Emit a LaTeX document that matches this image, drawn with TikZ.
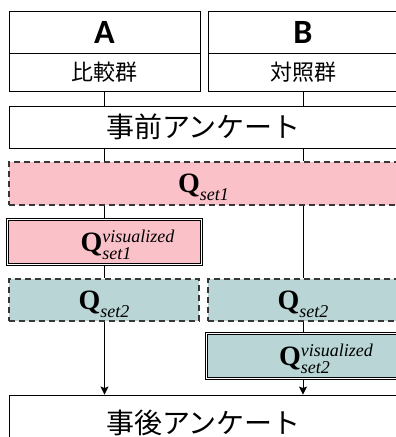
\documentclass[tikz,border=0pt]{standalone}
\usepackage{fontspec}
\setmainfont{Liberation Serif}
\newfontfamily\jpfont{Noto Sans CJK JP}
\newfontfamily\hdfont{Carlito}
\usetikzlibrary{arrows.meta}
\definecolor{qpink}{RGB}{250,193,200}
\definecolor{qteal}{RGB}{185,213,213}
\definecolor{dashgray}{RGB}{55,55,55}
\newcommand\bigQ{{\fontsize{28}{28}\selectfont\bfseries Q}}
\newcommand\qsmall[1]{{\fontsize{18}{18}\selectfont\itshape #1}}
\newcommand\qset[1]{\bigQ\raisebox{-8pt}{\qsmall{#1}}}
\newcommand\qvis[1]{\hspace*{46pt}\bigQ\rlap{\raisebox{-8pt}{\qsmall{#1}}}\raisebox{9pt}{\qsmall{visualized}}}
\begin{document}
\begin{tikzpicture}[x=1pt,y=-1pt,
  box/.style={draw=black,line width=0.9pt,inner sep=0pt,fill=white},
  dbox/.style={draw=dashgray,line width=1.2pt,dash pattern=on 6pt off 4pt,inner sep=0pt},
  vbox/.style={draw=black,line width=0.8pt,double distance=1.8pt,inner sep=0pt},
  qtext/.style={text height=18.5pt,text depth=0pt},
  hd/.style={font=\hdfont\bfseries\fontsize{34}{34}\selectfont},
  jl/.style={font=\jpfont\fontsize{22}{22}\selectfont},
  jb/.style={font=\jpfont\fontsize{28}{28}\selectfont},
  conn/.style={line width=0.9pt},
  arr/.style={conn,-{Stealth[length=8pt,width=8pt,inset=1.5pt]}}]
\useasboundingbox (0,0) rectangle (396,437);
\clip (0,0) rectangle (396,437);
% headers
\node[box,hd,minimum width=191pt,minimum height=42pt] (Ahead) at (104.5,32) {A};
\node[box,jl,minimum width=191pt,minimum height=38pt] (Alab) at (104.5,72) {比較群};
\node[box,hd,minimum width=190pt,minimum height=42pt] (Bhead) at (303,32) {B};
\node[box,jl,minimum width=190pt,minimum height=38pt] (Blab) at (303,72) {対照群};
% pre survey
\node[box,jb,minimum width=389pt,minimum height=42pt] (pre) at (203.5,127) {事前アンケート};
% Q set1
\node[dbox,fill=qpink,qtext,minimum width=389pt,minimum height=43pt] (q1) at (203.5,183.5) {\qset{set1}};
\node[vbox,fill=qpink,qtext,minimum width=194pt,minimum height=45pt] (v1) at (104.5,242) {\qvis{set1}};
% Q set2
\node[dbox,fill=qteal,qtext,minimum width=190pt,minimum height=42pt] (q2a) at (104,300) {\qset{set2}};
\node[dbox,fill=qteal,qtext,minimum width=190pt,minimum height=42pt] (q2b) at (303,300) {\qset{set2}};
\node[vbox,fill=qteal,qtext,minimum width=193pt,minimum height=45pt] (v2) at (303,356) {\qvis{set2}};
% post survey
\node[box,jb,minimum width=389pt,minimum height=55pt] (post) at (203.5,422.5) {事後アンケート};
% connectors A
\draw[conn] (Alab.south) -- (Alab.south |- pre.north);
\draw[conn] (pre.south -| Alab.south) -- (q1.north -| Alab.south);
\draw[conn] (q1.south -| Alab.south) -- (v1.north -| Alab.south);
\draw[conn] (v1.south -| Alab.south) -- (q2a.north -| Alab.south);
\draw[arr] (q2a.south -| Alab.south) -- (post.north -| Alab.south);
% connectors B
\draw[conn] (Blab.south) -- (Blab.south |- pre.north);
\draw[conn] (pre.south -| Blab.south) -- (q1.north -| Blab.south);
\draw[conn] (q1.south -| Blab.south) -- (q2b.north -| Blab.south);
\draw[conn] (q2b.south -| Blab.south) -- (v2.north -| Blab.south);
\draw[arr] (v2.south -| Blab.south) -- (post.north -| Blab.south);
\end{tikzpicture}
\end{document}
